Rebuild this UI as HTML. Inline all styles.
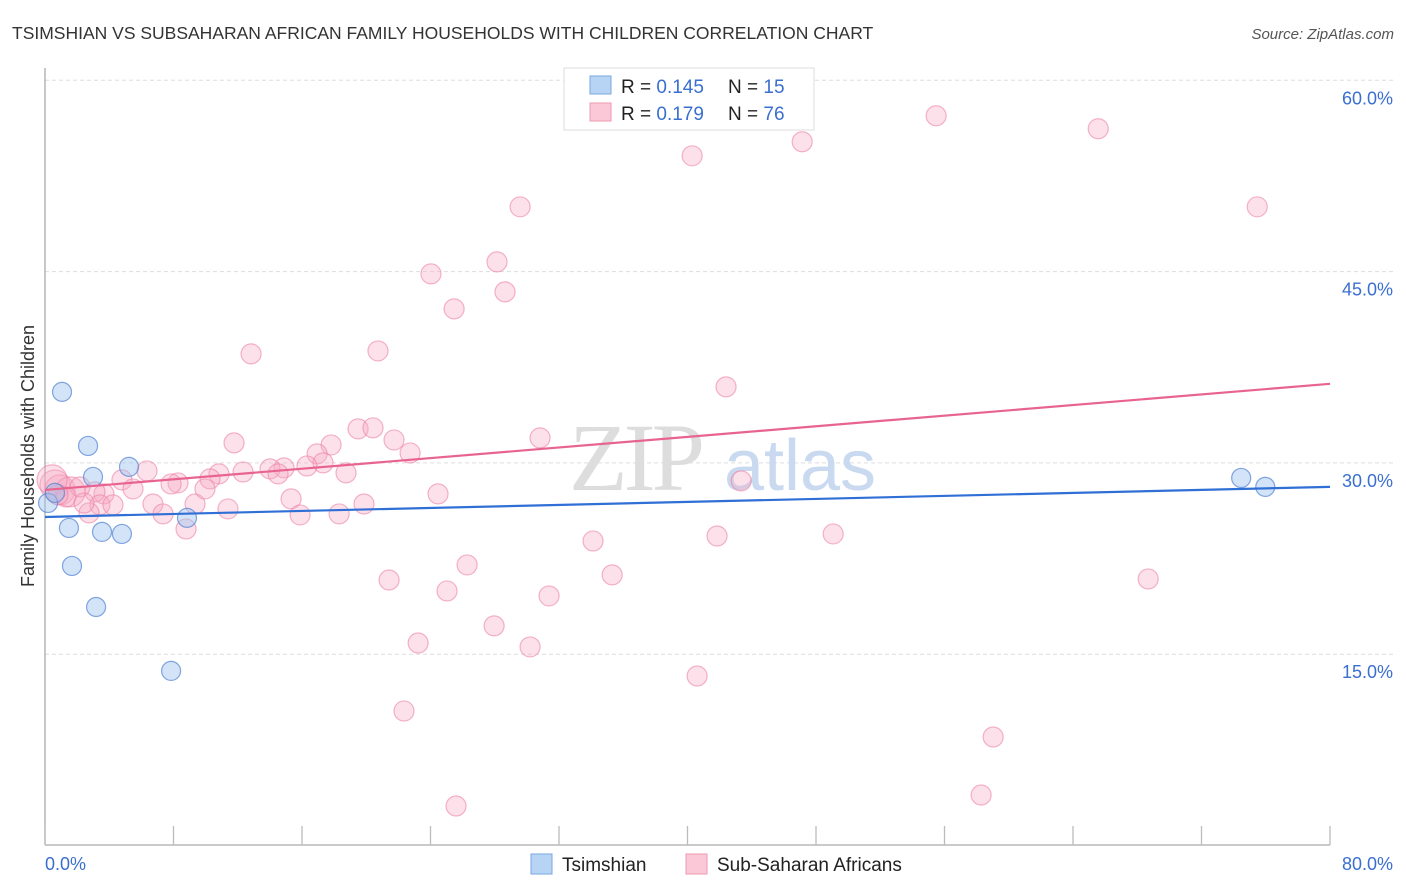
<!DOCTYPE html>
<html><head><meta charset="utf-8">
<style>
body{margin:0;background:#fff;font-family:"Liberation Sans",sans-serif;}
svg{display:block}
</style></head>
<body>
<svg id="chart" width="1406" height="892" xmlns="http://www.w3.org/2000/svg">
<text x="12" y="39" font-size="17.5" fill="#333">TSIMSHIAN VS SUBSAHARAN AFRICAN FAMILY HOUSEHOLDS WITH CHILDREN CORRELATION CHART</text>
<text x="1394" y="39" font-size="15" fill="#555" font-style="italic" text-anchor="end">Source: ZipAtlas.com</text>
<g id="grid"></g>
<g>
<text x="635" y="490" font-size="96" font-family="Liberation Serif,serif" fill="#ddd" text-anchor="middle" letter-spacing="-4">ZIP</text>
<text x="800" y="490" font-size="72" fill="#c9d9ef" text-anchor="middle">atlas</text>
</g>
<line x1="45" y1="68" x2="45" y2="845" stroke="#aaa" stroke-width="1.3"/>
<line x1="45" y1="845" x2="1330" y2="845" stroke="#aaa" stroke-width="1.3"/>
<g id="ticks"></g>
<g id="pink"></g>
<g id="blue"></g>
<g id="trends"></g>
<text x="45" y="870" font-size="18" fill="#3a6fd0">0.0%</text>
<text x="1393" y="870" font-size="18" fill="#3a6fd0" text-anchor="end">80.0%</text>
<text transform="translate(34,456) rotate(-90)" font-size="18" fill="#333" text-anchor="middle">Family Households with Children</text>
<g>
<rect x="564" y="68" width="250" height="62" fill="#fff" stroke="#ddd"/>
<rect x="590" y="76" width="21" height="18" fill="#b8d4f5" stroke="#7aa7e0"/>
<rect x="590" y="103" width="21" height="18" fill="#fac8d6" stroke="#ef9ab3"/>
<text x="621" y="93" font-size="19" fill="#222">R = <tspan fill="#3a6fd0">0.145</tspan><tspan x="728">N = </tspan><tspan fill="#3a6fd0">15</tspan></text>
<text x="621" y="120" font-size="19" fill="#222">R = <tspan fill="#3a6fd0">0.179</tspan><tspan x="728">N = </tspan><tspan fill="#3a6fd0">76</tspan></text>
</g>
<g>
<rect x="531" y="854" width="21" height="20" fill="#b8d4f5" stroke="#7aa7e0"/>
<text x="562" y="871" font-size="19" fill="#222">Tsimshian</text>
<rect x="686" y="854" width="21" height="20" fill="#fac8d6" stroke="#ef9ab3"/>
<text x="717" y="871" font-size="19" fill="#222">Sub-Saharan Africans</text>
</g>
</svg>
<script>
const yTicks=[15,30,45,60];
const yTickLabels=["15.0%","30.0%","45.0%","60.0%"];
const xTickVals=[0,8,16,24,32,40,48,56,64,72,80];
const blueX=[1.06,2.68,2.99,5.23,0.19,0.62,1.49,3.55,4.79,1.68,3.18,8.84,7.85,74.47,75.97];
const blueY=[35.57,31.33,28.9,29.69,26.86,27.65,24.9,24.59,24.43,21.92,18.7,25.69,13.69,28.82,28.12];
const pinkX=[33.5,55.48,65.57,40.29,47.14,29.58,75.47,24.03,28.14,28.64,25.47,20.73,12.83,42.4,30.82,11.77,19.49,20.42,21.73,22.73,17.81,16.94,17.31,16.31,18.74,14.88,14.01,14.51,12.33,10.83,10.27,6.35,8.28,7.85,4.79,5.48,3.67,3.11,0.62,0.93,1.56,2.18,3.42,4.23,2.74,0.44,6.72,7.35,9.34,9.96,11.39,8.78,15.32,15.88,18.31,19.86,24.47,43.34,41.84,49.07,34.12,26.28,35.31,21.42,25.03,31.38,68.68,27.96,23.23,30.2,40.6,22.35,59.03,25.59,58.28,1.31,2.43,0.81];
const pinkY=[58.47,57.22,56.2,54.08,55.18,50.08,50.08,44.82,45.76,43.41,42.08,38.78,38.55,35.96,31.96,31.57,32.67,32.75,31.8,30.78,31.41,30.71,30.0,29.76,29.22,29.61,29.53,29.14,29.29,29.14,28.75,29.37,28.43,28.35,28.67,27.96,27.57,27.73,28.27,27.88,27.73,28.12,26.71,26.71,26.08,28.67,26.78,26.0,26.78,27.96,26.39,24.82,27.18,25.92,26.0,26.78,27.57,28.59,24.27,24.43,23.88,22.0,21.22,20.82,19.96,19.57,20.9,17.22,15.88,15.57,13.29,10.55,8.51,3.1,3.96,27.33,26.86,27.5];
const blueTrend=[25.76,28.12];
const pinkTrend=[27.88,36.2];
const NS="http://www.w3.org/2000/svg";
function xs(v){return 45+v*(1285/80);}
function ys(v){return 845.5-v*(191.3/15);}
function mk(t,a,p){const e=document.createElementNS(NS,t);for(const k in a)e.setAttribute(k,a[k]);p.appendChild(e);return e;}
const grid=document.getElementById('grid');
yTicks.forEach((v,i)=>{
  const l=mk('line',{x1:45,x2:1393,y1:ys(v),y2:ys(v),stroke:'#ddd','stroke-dasharray':'4,3'},grid);
  
  
  const t=mk('text',{x:1393,y:ys(v)+24,'font-size':18,fill:'#3a6fd0','text-anchor':'end'},grid);
  t.textContent=yTickLabels[i];
  
  
});
const tk=document.getElementById('ticks');
xTickVals.forEach(v=>{
  const l=mk('line',{x1:xs(v),x2:xs(v),y1:826,y2:845,stroke:'#bbb','stroke-width':1.3},tk);
  
  
});
const pg=document.getElementById('pink');
pinkX.forEach((v,i)=>{
  const big=(v<1.6&&pinkY[i]>27.5&&pinkY[i]<28.8);
  const c=mk('circle',{cx:xs(v),cy:ys(pinkY[i]),r:big?15:10,fill:'rgba(246,170,195,0.35)',stroke:'rgba(236,130,165,0.6)','stroke-width':1.2},pg);
  
  
});
const bg=document.getElementById('blue');
blueX.forEach((v,i)=>{
  const c=mk('circle',{cx:xs(v),cy:ys(blueY[i]),r:9.5,fill:'rgba(160,196,240,0.45)',stroke:'rgba(80,130,210,0.7)','stroke-width':1.2},bg);
  
  
});
const tg=document.getElementById('trends');
const pl=mk('line',{x1:xs(0),x2:xs(80),y1:ys(pinkTrend[0]),y2:ys(pinkTrend[1]),stroke:'#e8648f','stroke-width':2.2},tg);


const bl=mk('line',{x1:xs(0),x2:xs(80),y1:ys(blueTrend[0]),y2:ys(blueTrend[1]),stroke:'#2f6fd6','stroke-width':2.2},tg);


</script>
</body></html>
